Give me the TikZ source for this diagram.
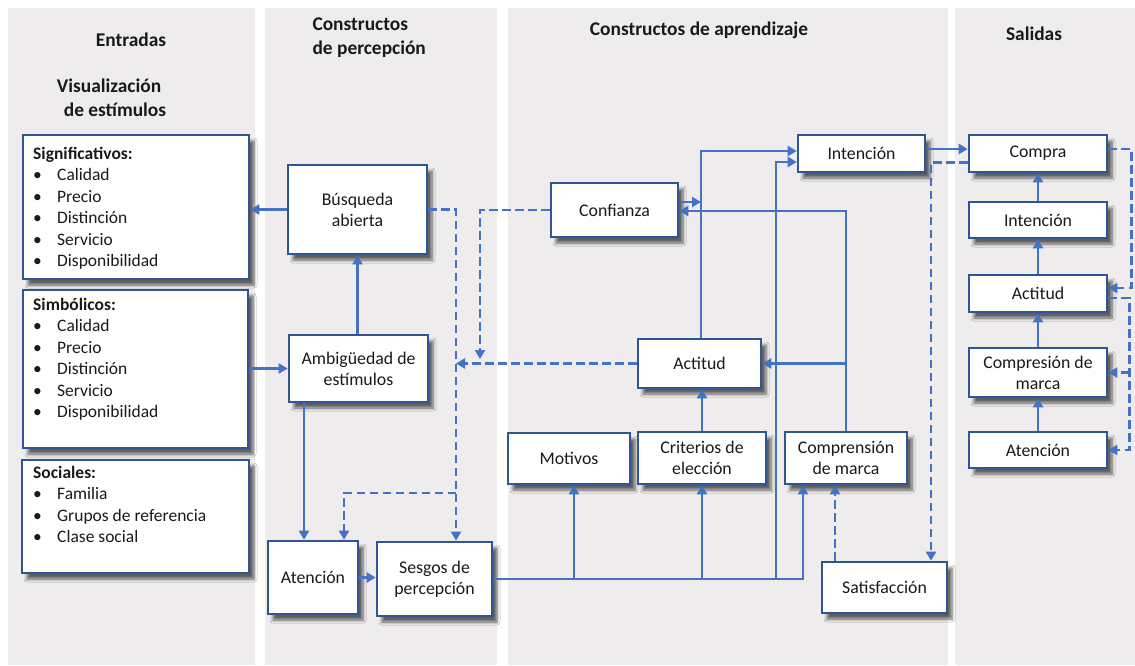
\documentclass[tikz,border=0pt]{standalone}
\usepackage{fontspec}
\setmainfont{Carlito}
\usetikzlibrary{arrows.meta,shadows.blur}
\definecolor{panel}{RGB}{238,236,237}
\definecolor{edge}{RGB}{47,85,151}
\definecolor{link}{RGB}{68,114,196}
\definecolor{ink}{RGB}{26,26,26}
\newcommand{\bul}{\makebox[24pt][l]{•}}
\tikzset{
  box/.style={draw=edge, line width=2.6pt, fill=white, text=ink, align=center,
    font=\fontsize{17.8}{21}\selectfont, inner sep=2pt,
    blur shadow={shadow xshift=5pt, shadow yshift=-6pt, shadow blur steps=6,
      shadow blur radius=3pt, shadow opacity=60}},
  listtext/.style={text=ink, inner sep=0pt,
    font=\fontsize{17.5}{21.5}\selectfont},
  title/.style={font=\fontsize{19.4}{24}\selectfont\bfseries, text=ink, align=center},
  ln/.style={draw=link, line width=2.8pt},
  arr/.style={ln, -{Triangle[length=9pt,width=10pt]}},
  darr/.style={arr, dash pattern=on 8.5pt off 4.5pt}
}
\begin{document}
\begin{tikzpicture}[x=1pt,y=-1pt]
\useasboundingbox (0,0) rectangle (1135,665);
\fill[white] (0,0) rectangle (1135,665);

% column panels
\fill[panel] (8,8) rectangle (255,665);
\fill[panel] (265,8) rectangle (497,665);
\fill[panel] (508,8) rectangle (948,665);
\fill[panel] (955,8) rectangle (1135,665);

% column titles
\node[title] (tEnt) at (131,40) {Entradas};
\node[title] (tVis) at (109,98) {Visualización\\\hspace*{12pt}de estímulos};
\node[title, align=left, anchor=west] (tPer) at (309,38) {Constructos\\de percepción};
\node[title] (tApr) at (699,30) {Constructos de aprendizaje};
\node[title] (tSal) at (1034,34) {Salidas};

% stimulus lists
\node[box, minimum width=226pt, minimum height=144pt] (sig) at (136,207) {};
\node[listtext, anchor=base west] (sigT) at (33,159)
  {\begin{tabular}[t]{@{}l@{}}\textbf{Significativos:}\\\bul Calidad\\\bul Precio\\\bul Distinción\\\bul Servicio\\\bul Disponibilidad\end{tabular}};
\node[box, minimum width=225pt, minimum height=158pt] (sim) at (135.5,369) {};
\node[listtext, anchor=base west] (simT) at (33,310)
  {\begin{tabular}[t]{@{}l@{}}\textbf{Simbólicos:}\\\bul Calidad\\\bul Precio\\\bul Distinción\\\bul Servicio\\\bul Disponibilidad\end{tabular}};
\node[box, minimum width=227pt, minimum height=113pt] (soc) at (135.5,516.5) {};
\node[listtext, anchor=base west] (socT) at (33,478)
  {\begin{tabular}[t]{@{}l@{}}\textbf{Sociales:}\\\bul Familia\\\bul Grupos de referencia\\\bul Clase social\end{tabular}};

% perception constructs
\node[box, minimum width=139pt, minimum height=89pt] (bus) at (357.5,209.5) {Búsqueda\\abierta};
\node[box, minimum width=139pt, minimum height=67pt] (amb) at (358.5,368.5) {Ambigüedad de\\estímulos};
\node[box, minimum width=90pt, minimum height=73pt] (atL) at (313,577.5) {Atención};
\node[box, minimum width=115pt, minimum height=74pt] (ses) at (434.5,579) {Sesgos de\\percepción};

% learning constructs
\node[box, minimum width=122pt, minimum height=51pt] (mot) at (569,458.5) {Motivos};
\node[box, minimum width=128pt, minimum height=52pt] (cri) at (702,458) {Criterios de\\elección};
\node[box, minimum width=122pt, minimum height=52pt] (comp) at (846,458) {Comprensión\\de marca};
\node[box, minimum width=125pt, minimum height=51pt] (sat) at (884.5,587.5) {Satisfacción};
\node[box, minimum width=127pt, minimum height=54pt] (conf) at (614.5,210) {Confianza};
\node[box, minimum width=123pt, minimum height=49pt] (act) at (699.5,363.5) {Actitud};
\node[box, minimum width=127pt, minimum height=37pt] (intM) at (861.5,153.5) {Intención};

% outputs
\node[box, minimum width=138pt, minimum height=37pt] (compra) at (1038,153.5) {Compra};
\node[box, minimum width=138pt, minimum height=36pt] (intR) at (1038,220) {Intención};
\node[box, minimum width=138pt, minimum height=37pt] (actR) at (1038,293.5) {Actitud};
\node[box, minimum width=138pt, minimum height=49pt] (cmR) at (1038,372.5) {Compresión de\\marca};
\node[box, minimum width=138pt, minimum height=36pt] (atR) at (1038,450) {Atención};

% junction points
\coordinate (dj) at (456,493);
\coordinate (cfEnd) at (480,359);
\coordinate (vx) at (776,0);
\coordinate (mx) at (574,0);

% perception links
\draw[arr] (bus.west) -- (sig.east |- bus.west);
\draw[arr] (sim.east |- amb.west) -- (amb.west);
\draw[arr] (amb.north -| bus.south) -- (bus.south);
\draw[arr] ([xshift=-54.5pt]amb.south) -- ([xshift=-54.5pt]amb.south |- atL.north);
\draw[arr] (atL.east) -- (atL.east -| ses.west);
\draw[darr] (bus.east) -| ([xshift=21.5pt]ses.north);
\draw[darr] (dj) -| ([xshift=31pt]atL.north);
\draw[darr] (conf.west) -| (cfEnd);
\draw[darr] (act.west) -- (act.west -| dj);

% learning links
\draw[arr] (ses.east) -| ([xshift=-43pt]comp.south);
\draw[arr] (ses.east -| mx) -- (mx |- mot.south);
\draw[arr] (ses.east -| cri.south) -- (cri.south);
\draw[arr] (ses.east -| vx) |- ([yshift=-8.5pt]intM.west);
\draw[arr] ([xshift=1.5pt]act.north) |- ([yshift=2.5pt]intM.west);
\draw[arr] (cri.north) -- (cri.north |- act.south);
\draw[arr] (comp.north) |- ([yshift=-1pt]conf.east);
\draw[arr] (comp.north |- act.east) -- (act.east);
\draw[arr] ([yshift=8pt]conf.east) -- ([xshift=1.5pt,yshift=8pt]conf.east -| act.north);
\draw[darr] ([xshift=-49.5pt]sat.north) -- ([xshift=-49.5pt]sat.north |- comp.south);

% output links
\draw[arr] ([yshift=4.5pt]intM.east) -- ([yshift=4.5pt]intM.east -| compra.west);
\draw[darr] ([yshift=-9pt]compra.west) -| ([xshift=46.5pt]sat.north);
\draw[arr] (atR.north) -- (cmR.south);
\draw[arr] (cmR.north) -- (actR.south);
\draw[arr] (actR.north) -- (intR.south);
\draw[arr] (intR.north) -- (compra.south);
\draw[darr] ([yshift=4.5pt]compra.east) -- ++(23,0) |- ([yshift=5.5pt]actR.east);
\draw[darr] ([yshift=-4.5pt]actR.east) -- ++(21,0) |- (atR.east);
\draw[darr] ([xshift=21pt]cmR.east) -- (cmR.east);
\end{tikzpicture}
\end{document}
